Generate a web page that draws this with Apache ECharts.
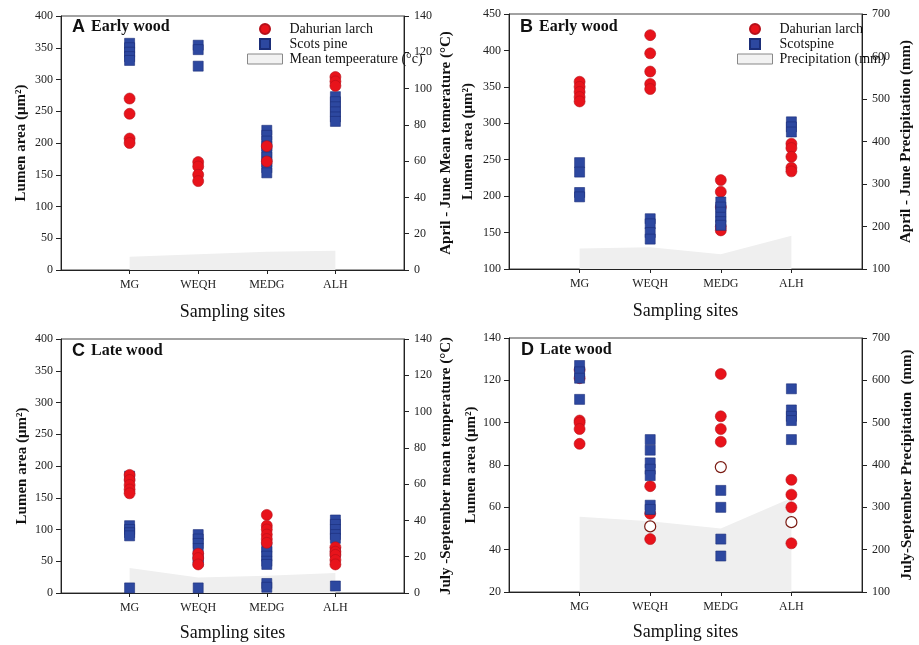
<!DOCTYPE html>
<html>
<head>
<meta charset="utf-8">
<script src="https://cdn.jsdelivr.net/npm/echarts@6/dist/echarts.min.js"></script>
<style>
  html, body { margin: 0; padding: 0; background: #fff; }
  #main { width: 919px; height: 645px; }
</style>
</head>
<body>
<div id="main"></div>
<script>
// sampling sites
const sites = ['MG', 'WEQH', 'MEDG', 'ALH'];

// A - early wood, lumen area per site (um2)
const larchA = [[270, 246, 207, 200], [170, 163, 150, 140], [195, 171], [304, 297, 290]];
const pineA = [[357, 350, 343, 336, 330], [354, 347, 321], [220, 212, 203, 195, 186, 178, 170, 161, 153], [273, 265, 257, 249, 241, 234]];
const tempA = [7.3, 8.7, 10, 10.6]; // April-June mean temperature

// B - early wood
const larchB = [[357, 350, 343, 336, 330], [421, 396, 371, 354, 347], [222, 206, 185, 158, 153], [272, 266, 254, 239, 234]];
const pineB = [[246, 233, 205, 199], [169, 162, 150, 141], [192, 185, 178, 171, 165, 160], [302, 295, 288]];
const precipB = [148, 151, 135, 178]; // April-June precipitation

// C - late wood
const larchC = [[186, 178, 170, 163, 157], [62, 55, 45], [123, 106, 100, 92, 85, 79], [72, 65, 60, 52, 45]];
const pineC = [[184, 106, 100, 95, 90, 8], [92, 85, 78, 70, 55, 50, 8], [72, 65, 58, 50, 45, 15, 9], [115, 108, 100, 92, 86, 64, 11]];
const tempC = [13.8, 8.5, 9.5, 11]; // July-September mean temperature

// D - late wood
const larchD = [[125, 121, 101, 100, 97, 90], [70, 57, 45], [123, 103, 97, 91], [73, 66, 60, 43]];
const hollowD = [[], [51], [79], [53]];
const pineD = [[127, 124, 121, 111], [92, 87, 81, 78, 75, 61, 59], [68, 60, 45, 37], [116, 106, 103, 101, 92]];
const precipD = [278, 267, 250, 322]; // July-September precipitation

const serif = 'Liberation Serif';
const xCats = [''].concat(sites, [' ']);

function pts(bySite) {
  let out = [];
  bySite.forEach((vals, i) => vals.forEach(v => out.push([i + 1, v])));
  return out;
}
function areaPts(vals) {
  return vals.map((v, i) => [i + 1, v]);
}

const grids = [
  { left: 61, top: 16, width: 343, height: 254 },
  { left: 509, top: 14, width: 353, height: 255 },
  { left: 61, top: 339, width: 343, height: 254 },
  { left: 509, top: 338, width: 353, height: 254 }
];

const leftAxes = [
  { min: 0, max: 400, interval: 50, gap: 32 },
  { min: 100, max: 450, interval: 50, gap: 33 },
  { min: 0, max: 400, interval: 50, gap: 31 },
  { min: 20, max: 140, interval: 20, gap: 30 }
];
const rightAxes = [
  { min: 0, max: 140, interval: 20, gap: 35, name: 'April - June Mean temerature (°C)' },
  { min: 100, max: 700, interval: 100, gap: 37, name: 'April - June Precipitation (mm)' },
  { min: 0, max: 140, interval: 20, gap: 35, name: 'July -September mean temperature (°C)' },
  { min: 100, max: 700, interval: 100, gap: 38, name: 'July-September Precipitation  (mm)' }
];

const labelStyle = { fontFamily: serif, fontSize: 12, color: '#222' };
const lineCol = '#222';

let xAxis = [], yAxis = [];
grids.forEach((g, i) => {
  xAxis.push({
    gridIndex: i, type: 'category', data: xCats, boundaryGap: false,
    name: 'Sampling sites', nameLocation: 'middle', nameGap: i < 2 ? 33 : 31,
    nameTextStyle: { fontFamily: serif, fontSize: 18, color: '#111' },
    axisLine: { lineStyle: { color: lineCol } },
    axisTick: { interval: (k) => k > 0 && k < 5, length: 4, lineStyle: { color: lineCol } },
    axisLabel: Object.assign({ interval: 0, margin: 9 }, labelStyle),
    splitLine: { show: false }
  });
  const l = leftAxes[i], r = rightAxes[i];
  yAxis.push({
    gridIndex: i, type: 'value', position: 'left', min: l.min, max: l.max, interval: l.interval,
    name: 'Lumen area (μm²)', nameLocation: 'middle', nameGap: l.gap, nameRotate: 90,
    nameTextStyle: { fontFamily: serif, fontSize: 15, fontWeight: 'bold', color: '#111' },
    axisLine: { show: true, lineStyle: { color: lineCol } },
    axisTick: { show: true, length: 5, lineStyle: { color: lineCol } },
    axisLabel: Object.assign({ margin: 8 }, labelStyle),
    splitLine: { show: false }
  });
  yAxis.push({
    gridIndex: i, type: 'value', position: 'right', min: r.min, max: r.max, interval: r.interval,
    name: r.name, nameLocation: 'middle', nameGap: r.gap, nameRotate: 90,
    nameTextStyle: { fontFamily: serif, fontSize: 15, fontWeight: 'bold', color: '#111' },
    axisLine: { show: true, lineStyle: { color: lineCol } },
    axisTick: { show: true, length: 5, lineStyle: { color: lineCol } },
    axisLabel: Object.assign({ margin: 10 }, labelStyle),
    splitLine: { show: false }
  });
});

const larchStyle = { color: '#e8131b', borderColor: '#b5101a', borderWidth: 0.6, opacity: 1 };
const pineStyle = { color: '#2d48a0', borderColor: '#1b2e78', borderWidth: 0.6, opacity: 1 };
const areaColor = '#efefef';

const panels = [
  { larch: larchA, pine: pineA, env: tempA, envName: 'Mean tempeerature (°c)', pineName: 'Scots pine', pineTop: false },
  { larch: larchB, pine: pineB, env: precipB, envName: 'Precipitation (mm)', pineName: 'Scotspine', pineTop: true },
  { larch: larchC, pine: pineC, env: tempC, envName: 'Mean tempeerature (°c)', pineName: 'Scots pine', pineTop: false },
  { larch: larchD, pine: pineD, env: precipD, envName: 'Precipitation (mm)', pineName: 'Scotspine', pineTop: true }
];

let series = [];
panels.forEach((p, i) => {
  series.push({
    name: p.envName, type: 'line', xAxisIndex: i, yAxisIndex: i * 2 + 1,
    data: areaPts(p.env), symbol: 'none', z: 1, silent: true,
    itemStyle: { color: areaColor },
    lineStyle: { width: 0, color: areaColor },
    areaStyle: { color: areaColor, opacity: 1 }
  });
  const larchS = {
    name: 'Dahurian larch', type: 'scatter', xAxisIndex: i, yAxisIndex: i * 2,
    symbol: 'circle', symbolSize: 11, data: pts(p.larch), itemStyle: larchStyle
  };
  const pineS = {
    name: p.pineName, type: 'scatter', xAxisIndex: i, yAxisIndex: i * 2,
    symbol: 'rect', symbolSize: 10, data: pts(p.pine), itemStyle: pineStyle
  };
  if (p.pineTop) series.push(larchS, pineS); else series.push(pineS, larchS);
});
series.push({
  name: 'Dahurian larch (open)', type: 'scatter', xAxisIndex: 3, yAxisIndex: 6,
  symbol: 'circle', symbolSize: 11, data: pts(hollowD),
  itemStyle: { color: '#ffffff', borderColor: '#7a1a12', borderWidth: 1.2, opacity: 1 }
});

const squareIcon = 'path://M0,0L10,0L10,10L0,10Z';
function legendFor(left, top, pineName, envName) {
  return {
    orient: 'vertical', left: left, top: top, itemWidth: 35, itemHeight: 10, itemGap: 1,
    padding: 0, selectedMode: false,
    textStyle: { fontFamily: serif, fontSize: 14, color: '#111', padding: [0, 0, 0, 2] },
    data: [
      { name: 'Dahurian larch', icon: 'circle' },
      { name: pineName, icon: squareIcon },
      { name: envName, icon: 'rect', itemStyle: { color: '#f2f2f2', borderColor: '#888', borderWidth: 1 } }
    ]
  };
}

const titleRich = {
  a: { fontFamily: 'Liberation Sans', fontWeight: 'bold', fontSize: 18, color: '#111' },
  b: { fontFamily: serif, fontWeight: 'bold', fontSize: 16, color: '#111', padding: [0, 0, 0, 6] }
};
function panelTitle(letter, text, left, top) {
  return { text: '{a|' + letter + '}{b|' + text + '}', left: left, top: top, padding: 0, textStyle: { rich: titleRich } };
}

const option = {
  animation: false,
  backgroundColor: '#fff',
  title: [
    panelTitle('A', 'Early wood', 72, 18),
    panelTitle('B', 'Early wood', 520, 18),
    panelTitle('C', 'Late wood', 72, 342),
    panelTitle('D', 'Late wood', 521, 341)
  ],
  legend: [
    legendFor(247, 22, 'Scots pine', 'Mean tempeerature (°c)'),
    legendFor(737, 22, 'Scotspine', 'Precipitation (mm)')
  ],
  grid: grids.map(g => Object.assign({ show: true, borderColor: '#444', borderWidth: 1, backgroundColor: 'transparent' }, g)),
  xAxis: xAxis,
  yAxis: yAxis,
  series: series
};

const chart = echarts.init(document.getElementById('main'));
chart.setOption(option);
</script>
</body>
</html>
